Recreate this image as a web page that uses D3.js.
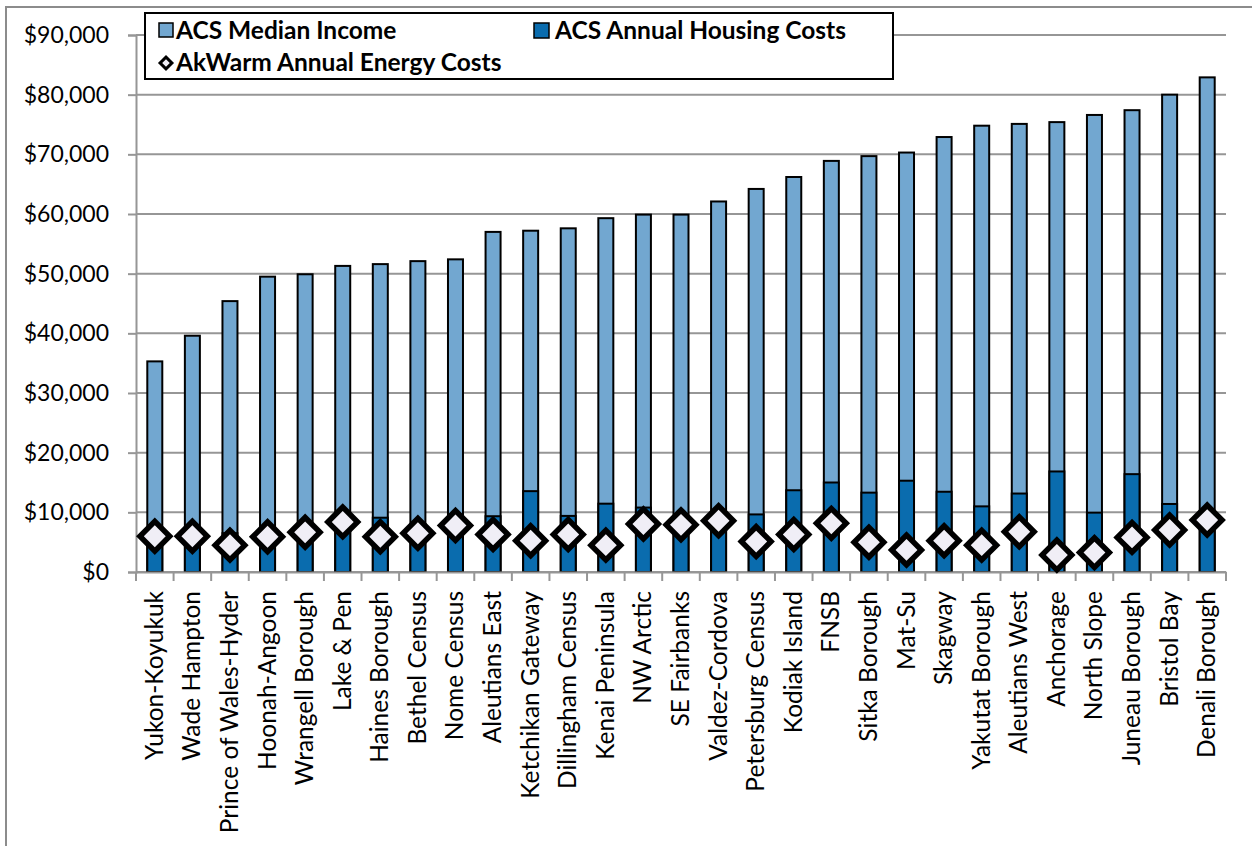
<!DOCTYPE html>
<html>
<head>
<meta charset="utf-8">
<script src="https://cdn.jsdelivr.net/npm/d3@7"></script>
<style>
  body { margin: 0; background: #fff; }
  text { font-family: Lato, "Open Sans", sans-serif; fill: #000; }
</style>
</head>
<body>
<div id="chart"></div>
<script>
const categories = ['Yukon-Koyukuk', 'Wade Hampton', 'Prince of Wales-Hyder', 'Hoonah-Angoon', 'Wrangell Borough',
  'Lake & Pen', 'Haines Borough', 'Bethel Census', 'Nome Census', 'Aleutians East', 'Ketchikan Gateway',
  'Dillingham Census', 'Kenai Peninsula', 'NW Arctic', 'SE Fairbanks', 'Valdez-Cordova', 'Petersburg Census',
  'Kodiak Island', 'FNSB', 'Sitka Borough', 'Mat-Su', 'Skagway', 'Yakutat Borough', 'Aleutians West',
  'Anchorage', 'North Slope', 'Juneau Borough', 'Bristol Bay', 'Denali Borough'];

const medianIncome = [35300, 39600, 45400, 49500, 49900, 51300, 51600, 52100, 52400, 57000, 57200,
  57600, 59300, 59900, 59900, 62100, 64200, 66200, 68900, 69700, 70300, 72900, 74800, 75100,
  75400, 76600, 77400, 80000, 82900];

const housingCosts = [7000, 7000, 6500, 7000, 7500, 8000, 9100, 8000, 8000, 9350, 13550,
  9400, 11450, 10800, 8000, 8500, 9650, 13700, 15000, 13300, 15300, 13450, 11000, 13150,
  16850, 9950, 16400, 11400, 9000];

const energyCosts = [6000, 6000, 4500, 5900, 6650, 8400, 5900, 6500, 7800, 6300, 5250,
  6300, 4500, 8050, 7900, 8600, 5100, 6300, 8150, 5000, 3700, 5250, 4500, 6750,
  2850, 3250, 5800, 7050, 8700];

const yTicks = [0, 10000, 20000, 30000, 40000, 50000, 60000, 70000, 80000, 90000];

const width = 1252, height = 846;
const margin = { top: 35, right: 26, bottom: 274, left: 136 };

const light = '#72a7d0', dark = '#0a6cae', diamondFill = '#f0eef6', gridColor = '#969696';

const svg = d3.select('#chart').append('svg')
  .attr('width', width)
  .attr('height', height);

// outer chart frame
svg.append('rect')
  .attr('x', 6).attr('y', 7)
  .attr('width', width + 20).attr('height', height + 20)
  .attr('fill', 'none').attr('stroke', '#8c8c8c').attr('stroke-width', 2);

const x = d3.scaleBand()
  .domain(categories)
  .range([margin.left, width - margin.right])
  .paddingInner(0).paddingOuter(0);

const y = d3.scaleLinear()
  .domain([0, 90000])
  .range([height - margin.bottom, margin.top]);

// gridlines
svg.append('g')
  .selectAll('line')
  .data(yTicks)
  .join('line')
    .attr('x1', margin.left).attr('x2', width - margin.right)
    .attr('y1', d => y(d)).attr('y2', d => y(d))
    .attr('stroke', gridColor).attr('stroke-width', 2);

// y axis
svg.append('g')
  .attr('transform', `translate(${margin.left},0)`)
  .call(d3.axisLeft(y).tickValues(yTicks).tickSize(8).tickPadding(19)
    .tickFormat(d => '$' + d3.format(',')(d)))
  .call(g => g.select('.domain').attr('stroke', gridColor).attr('stroke-width', 2))
  .call(g => g.selectAll('.tick line').attr('stroke', gridColor).attr('stroke-width', 2))
  .call(g => g.selectAll('.tick text').attr('font-size', 23).attr('font-family', 'Lato'));

const bw = 15;
const bars = svg.append('g');

bars.selectAll('rect.income')
  .data(categories)
  .join('rect')
    .attr('class', 'income')
    .attr('x', d => x(d) + x.bandwidth() / 2 - bw / 2)
    .attr('width', bw)
    .attr('y', (d, i) => y(medianIncome[i]))
    .attr('height', (d, i) => y(0) - y(medianIncome[i]))
    .attr('fill', light).attr('stroke', '#000').attr('stroke-width', 2);

bars.selectAll('rect.housing')
  .data(categories)
  .join('rect')
    .attr('class', 'housing')
    .attr('x', d => x(d) + x.bandwidth() / 2 - bw / 2)
    .attr('width', bw)
    .attr('y', (d, i) => y(housingCosts[i]))
    .attr('height', (d, i) => y(0) - y(housingCosts[i]))
    .attr('fill', dark).attr('stroke', '#000').attr('stroke-width', 2);

// x axis
const xAxisY = y(0);
svg.append('g')
  .attr('transform', `translate(0,${xAxisY})`)
  .call(d3.axisBottom(x).tickSize(0).tickPadding(0).tickFormat(''))
  .call(g => g.select('.domain').attr('stroke', gridColor).attr('stroke-width', 2))
  .call(g => g.selectAll('.tick').remove());

svg.append('g')
  .selectAll('line')
  .data(d3.range(categories.length + 1))
  .join('line')
    .attr('x1', i => margin.left + i * x.step())
    .attr('x2', i => margin.left + i * x.step())
    .attr('y1', xAxisY).attr('y2', xAxisY + 9)
    .attr('stroke', gridColor).attr('stroke-width', 2);

svg.append('g')
  .selectAll('text')
  .data(categories)
  .join('text')
    .attr('transform', d => `translate(${x(d) + x.bandwidth() / 2 + 8},${xAxisY + 19}) rotate(-90)`)
    .attr('text-anchor', 'end')
    .attr('font-size', 24.5)
    .text(d => d);

// energy cost diamonds
const diamond = d3.symbol().type(d3.symbolSquare).size(440);
svg.append('g')
  .selectAll('path')
  .data(categories)
  .join('path')
    .attr('d', diamond)
    .attr('transform', (d, i) => `translate(${x(d) + x.bandwidth() / 2},${y(energyCosts[i])}) rotate(45)`)
    .attr('fill', diamondFill).attr('stroke', '#000').attr('stroke-width', 5.5);

// legend
const legend = svg.append('g');
legend.append('rect')
  .attr('x', 145).attr('y', 13).attr('width', 748).attr('height', 66)
  .attr('fill', '#fff').attr('stroke', '#000').attr('stroke-width', 2);

legend.append('rect')
  .attr('x', 159).attr('y', 23).attr('width', 14).attr('height', 14)
  .attr('fill', light).attr('stroke', '#000').attr('stroke-width', 1.5);
legend.append('text')
  .attr('x', 176).attr('y', 39)
  .attr('font-size', 24.5).attr('font-weight', 'bold')
  .text('ACS Median Income');

legend.append('rect')
  .attr('x', 534).attr('y', 23).attr('width', 15).attr('height', 15)
  .attr('fill', dark).attr('stroke', '#000').attr('stroke-width', 1.5);
legend.append('text')
  .attr('x', 555).attr('y', 39)
  .attr('font-size', 24.5).attr('font-weight', 'bold')
  .text('ACS Annual Housing Costs');

legend.append('path')
  .attr('d', d3.symbol().type(d3.symbolSquare).size(70))
  .attr('transform', 'translate(166,63) rotate(45)')
  .attr('fill', diamondFill).attr('stroke', '#000').attr('stroke-width', 3);
legend.append('text')
  .attr('x', 176).attr('y', 71)
  .attr('font-size', 24.5).attr('font-weight', 'bold')
  .text('AkWarm Annual Energy Costs');
</script>
</body>
</html>
